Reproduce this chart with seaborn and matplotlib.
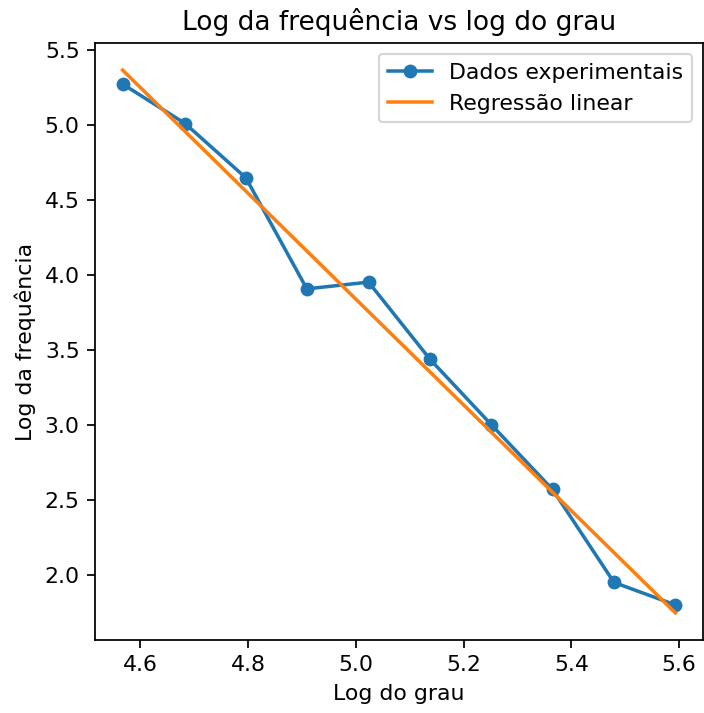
import numpy as np
import pandas as pd
import matplotlib
matplotlib.use("Agg")
import matplotlib.pyplot as plt
import seaborn as sns

log_grau = [4.5673, 4.6832, 4.7959, 4.9092, 5.0238, 5.1379, 5.2519, 5.3652, 5.4793, 5.5932]
log_freq = [5.272, 5.009, 4.647, 3.906, 3.951, 3.436, 2.999, 2.568, 1.948, 1.798]

title = "Log da frequência vs log do grau"
xlabel = "Log do grau"
ylabel = "Log da frequência"
label_dados = "Dados experimentais"
label_reg = "Regressão linear"

df = pd.DataFrame({"x": log_grau, "y": log_freq})
slope, intercept = np.polyfit(df["x"], df["y"], 1)
df["fit"] = slope * df["x"] + intercept

plt.rcParams['font.family'] = ['DejaVu Sans']
dpi = 158
fig = plt.figure(figsize=(704 / dpi, 713 / dpi), dpi=dpi)
ax = fig.add_axes([95 / 704, 1 - 640 / 713, 608 / 704, 597 / 713])

sns.lineplot(data=df, x="x", y="y", ax=ax, marker="o", markersize=6.3,
             markeredgewidth=0, color="#1f77b4", linewidth=1.6,
             label=label_dados, sort=False)
sns.lineplot(data=df, x="x", y="fit", ax=ax, color="#ff7f0e", linewidth=1.6,
             label=label_reg, sort=False)

ax.set_title(title, fontsize=12)
ax.set_xlabel(xlabel, fontsize=10)
ax.set_ylabel(ylabel, fontsize=10)
ax.set_xticks([4.6, 4.8, 5.0, 5.2, 5.4, 5.6])
ax.set_yticks([2.0, 2.5, 3.0, 3.5, 4.0, 4.5, 5.0, 5.5])
ax.tick_params(labelsize=10)
ax.legend(loc="upper right", fontsize=10)

fig.savefig("out.png", dpi=dpi)
